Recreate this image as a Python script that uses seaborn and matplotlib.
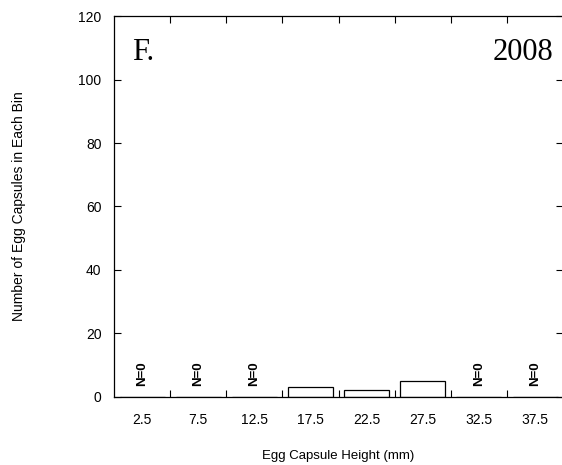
import matplotlib
matplotlib.use("Agg")
import matplotlib.pyplot as plt
import pandas as pd
import seaborn as sns
from matplotlib.ticker import FixedLocator, NullFormatter

# bin centers (mm) and counts per bin
bin_centers = [2.5, 7.5, 12.5, 17.5, 22.5, 27.5, 32.5, 37.5]
counts = [0, 0, 0, 3, 2, 5, 0, 0]
bin_edges = [5, 10, 15, 20, 25, 30, 35]
y_ticks = [0, 20, 40, 60, 80, 100, 120]

sns.set_theme(style="ticks")
plt.rcParams["font.family"] = ["Liberation Sans", "DejaVu Sans"]
plt.rcParams.update({
    "text.color": "black",
    "axes.labelcolor": "black",
    "xtick.color": "black",
    "ytick.color": "black",
})

df = pd.DataFrame({"height": bin_centers, "count": counts})

fig = plt.figure(figsize=(5.62, 4.65), dpi=100)
ax = fig.add_axes([0.203, 0.147, 0.799, 0.818])

sns.barplot(
    data=df, x="height", y="count", native_scale=True, width=0.8,
    color="white", edgecolor="black", linewidth=0.9, saturation=1, ax=ax,
)

ax.set_xlim(0, 40)
ax.set_ylim(0, 120)

# labelled ticks at bin centres (no marks), tick marks at bin edges
ax.xaxis.set_major_locator(FixedLocator(bin_edges))
ax.xaxis.set_major_formatter(NullFormatter())
ax.xaxis.set_minor_locator(FixedLocator(bin_centers))
ax.set_xticklabels([f"{v}" for v in bin_centers], minor=True)
ax.tick_params(axis="x", which="minor", length=0, pad=12, labelsize=10)
ax.tick_params(axis="x", which="major", direction="in", length=5, width=0.8,
               top=True, bottom=True)

ax.set_yticks(y_ticks)
ax.tick_params(axis="y", direction="in", length=5, width=0.8, left=True,
               right=True, labelsize=10, pad=9)

for spine in ax.spines.values():
    spine.set_visible(True)
    spine.set_linewidth(0.9)
    spine.set_color("black")

for x, c in zip(bin_centers, counts):
    if c == 0:
        ax.text(x, 3.5, "N=0", rotation=90, ha="center", va="bottom",
                fontsize=9.5, fontweight="bold")

ax.text(1.6, 108.7, "F.", fontsize=22, family=["Liberation Serif"], va="center", ha="left")
ax.text(39.1, 108.7, "2008", fontsize=22, family=["Liberation Serif"], va="center", ha="right")

ax.set_xlabel("Egg Capsule Height (mm)", fontsize=9.5, labelpad=16)
ax.set_ylabel("Number of Egg Capsules in Each Bin", fontsize=10, labelpad=38)

fig.savefig("out.png", dpi=100)
